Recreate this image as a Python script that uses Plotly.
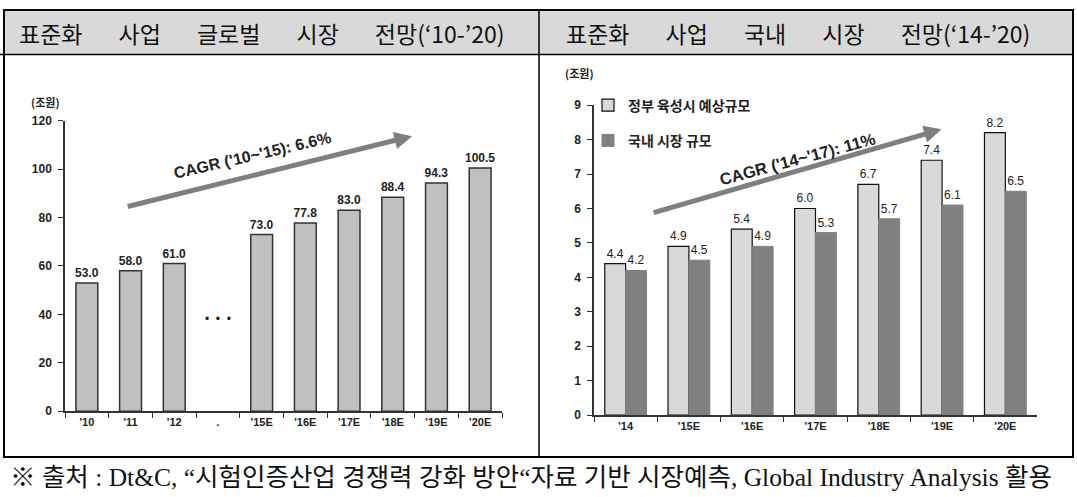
import plotly.graph_objects as go

W, H = 1077, 497

def px(x):
    return x / W

def py(y):
    return 1 - y / H

# ---------------- data ----------------
global_years = ["'10", "'11", "'12", ".", "'15E", "'16E", "'17E", "'18E", "'19E", "'20E"]
global_size = [53.0, 58.0, 61.0, None, 73.0, 77.8, 83.0, 88.4, 94.3, 100.5]

dom_years = ["'14", "'15E", "'16E", "'17E", "'18E", "'19E", "'20E"]
gov_forecast = [4.4, 4.9, 5.4, 6.0, 6.7, 7.4, 8.2]
dom_market = [4.2, 4.5, 4.9, 5.3, 5.7, 6.1, 6.5]

SP = " " * 7
title_left = SP.join(["표준화", "사업", "글로벌", "시장", "전망(‘10-’20)"])
title_right = SP.join(["표준화", "사업", "국내", "시장", "전망(‘14-’20)"])
caption = "※ 출처 : Dt&C, “시험인증산업 경쟁력 강화 방안“자료 기반 시장예측, Global Industry Analysis 활용"
unit_label = "(조원)"
cagr_left = "CAGR ('10~'15): 6.6%"
cagr_right = "CAGR ('14~'17): 11%"
legend_names = ["정부 육성시 예상규모", "국내 시장 규모"]

SANS = "Liberation Sans, Arial, sans-serif"
KR = "Noto Sans CJK KR, sans-serif"

fig = go.Figure()

fig.add_trace(go.Bar(
    x=global_years, y=global_size,
    text=["" if v is None else f"{v:.1f}" for v in global_size],
    textposition="outside", cliponaxis=False, constraintext="none",
    textfont=dict(family=SANS, size=12, color="#222", weight="bold"),
    width=0.5,
    marker=dict(color="#c0c0c0", line=dict(color="#333333", width=1.5)),
    xaxis="x", yaxis="y", showlegend=False, hoverinfo="skip",
))

fig.add_trace(go.Bar(
    x=dom_years, y=gov_forecast, name=legend_names[0],
    text=[f"{v:.1f}" for v in gov_forecast],
    textposition="outside", cliponaxis=False, constraintext="none",
    textfont=dict(family=SANS, size=12, color="#222"),
    width=0.33, offset=-0.33,
    marker=dict(color="#d9d9d9", line=dict(color="#111111", width=1.2)),
    xaxis="x2", yaxis="y2", legendgroup="a", hoverinfo="skip",
))
fig.add_trace(go.Bar(
    x=dom_years, y=dom_market, name=legend_names[1],
    text=[f"{v:.1f}" for v in dom_market],
    textposition="outside", cliponaxis=False, constraintext="none",
    textfont=dict(family=SANS, size=12, color="#222"),
    width=0.33, offset=0.0,
    marker=dict(color="#808080", line=dict(color="#808080", width=1)),
    xaxis="x2", yaxis="y2", legendgroup="b", hoverinfo="skip",
))

axis_common = dict(showline=True, linecolor="#333333", linewidth=1.5,
                   ticks="outside", ticklen=5, tickcolor="#333333",
                   showgrid=False, zeroline=False, fixedrange=True)

fig.update_layout(
    width=W, height=H, autosize=False,
    margin=dict(l=0, r=0, t=0, b=0),
    paper_bgcolor="white", plot_bgcolor="rgba(0,0,0,0)",
    barmode="overlay",
    xaxis=dict(domain=[px(65), px(502)], type="category", range=[-0.5, 9.5],
               tickson="boundaries", anchor="y",
               tickfont=dict(family=SANS, size=11, color="#222", weight="bold"),
               **axis_common),
    yaxis=dict(domain=[py(416), py(117)], range=[0, 120], dtick=20, anchor="x",
               tickfont=dict(family=SANS, size=12, color="#222", weight="bold"),
               ticklabelstandoff=4,
               **axis_common),
    xaxis2=dict(domain=[px(594), px(1037)], type="category", range=[-0.5, 6.5],
                tickson="boundaries", anchor="y2",
                tickfont=dict(family=SANS, size=11, color="#222", weight="bold"),
                **axis_common),
    yaxis2=dict(domain=[py(420), py(101)], range=[0, 9], dtick=1, anchor="x2",
                tickfont=dict(family=SANS, size=12, color="#222", weight="bold"),
                ticklabelstandoff=4,
                **axis_common),
    legend=dict(x=px(588), y=py(85), xanchor="left", yanchor="top",
                bgcolor="rgba(0,0,0,0)", tracegroupgap=14, itemwidth=30,
                font=dict(family=KR, size=14, color="#222", weight="bold")),
)

# table frame
fig.add_shape(type="rect", xref="paper", yref="paper",
              x0=px(4), x1=px(1073), y0=py(49), y1=py(3),
              fillcolor="#d9d9d9", line=dict(width=0), layer="below")
fig.add_shape(type="rect", xref="paper", yref="paper",
              x0=px(4), x1=px(1073), y0=py(463), y1=py(3),
              line=dict(color="black", width=2))
fig.add_shape(type="line", xref="paper", yref="paper",
              x0=px(0), x1=px(1073), y0=py(49), y1=py(49),
              line=dict(color="black", width=1.5))
fig.add_shape(type="line", xref="paper", yref="paper",
              x0=px(539), x1=px(539), y0=py(3), y1=py(463),
              line=dict(color="black", width=1.5))

ann = []
ann.append(dict(text=title_left, x=px(262), y=py(27), xref="paper", yref="paper",
                xanchor="center", yanchor="middle",
                showarrow=False, font=dict(family=KR, size=23, color="#111")))
ann.append(dict(text=title_right, x=px(798), y=py(27), xref="paper", yref="paper",
                xanchor="center", yanchor="middle",
                showarrow=False, font=dict(family=KR, size=23, color="#111")))
ann.append(dict(text=caption, x=px(8), y=py(484), xref="paper", yref="paper",
                xanchor="left", yanchor="middle", showarrow=False,
                font=dict(family="Liberation Serif, Noto Sans CJK KR, serif", size=25.5, color="#111")))
ann.append(dict(text=unit_label, x=px(45), y=py(98), xref="paper", yref="paper",
                xanchor="center", yanchor="middle",
                showarrow=False, font=dict(family=KR, size=11, color="#222", weight="bold")))
ann.append(dict(text=unit_label, x=px(579), y=py(68), xref="paper", yref="paper",
                xanchor="center", yanchor="middle",
                showarrow=False, font=dict(family=KR, size=11, color="#222", weight="bold")))
# ellipsis between '12 and '15E
ann.append(dict(text="•  •  •", x=3, y=38, xref="x", yref="y", showarrow=False,
                font=dict(family=SANS, size=12, color="#111")))
# CAGR arrows
ann.append(dict(x=7.44, y=113.6, ax=0.9, ay=84.4, xref="x", yref="y", axref="x", ayref="y",
                text="", showarrow=True, arrowhead=2, arrowsize=0.7, arrowwidth=5,
                arrowcolor="#7f7f7f"))
ann.append(dict(x=4.99, y=8.3, ax=0.42, ay=5.87, xref="x2", yref="y2", axref="x2", ayref="y2",
                text="", showarrow=True, arrowhead=2, arrowsize=0.7, arrowwidth=5,
                arrowcolor="#7f7f7f"))
ann.append(dict(text=cagr_left, x=px(252), y=py(153), xref="paper", yref="paper",
                xanchor="center", yanchor="middle",
                showarrow=False, textangle=-13,
                font=dict(family=SANS, size=16, color="#222", weight="bold")))
ann.append(dict(text=cagr_right, x=px(797), y=py(156), xref="paper", yref="paper",
                xanchor="center", yanchor="middle",
                showarrow=False, textangle=-15,
                font=dict(family=SANS, size=16.5, color="#222", weight="bold")))
fig.update_layout(annotations=ann)

fig.write_html(
    "out.html",
    config={"displayModeBar": False},
    post_script=(
        "document.documentElement.style.margin='0';"
        "document.documentElement.style.overflow='hidden';"
        "document.body.style.margin='0';document.body.style.overflow='hidden';"
        "var gd=document.getElementById('{plot_id}');"
        "gd.style.position='fixed';gd.style.top='0px';gd.style.left='0px';"
    ),
)
